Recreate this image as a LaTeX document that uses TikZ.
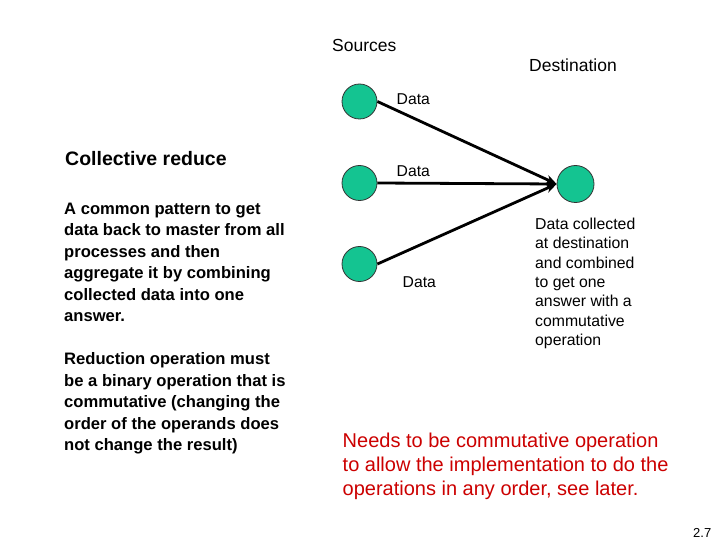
\documentclass[tikz,border=0pt]{standalone}
\usepackage{fontspec}
\setmainfont{Liberation Sans}
\usetikzlibrary{arrows.meta}
\definecolor{procgreen}{RGB}{20,196,145}
\definecolor{notered}{RGB}{204,0,0}
\tikzset{
  proc/.style={circle,draw=black!80,line width=0.8pt,fill=procgreen,minimum size=35pt,inner sep=0pt},
  msg/.style={line width=2.8pt,-{Stealth[length=11pt,width=9pt]}},
  lbl/.style={anchor=base west,inner sep=0pt,font=\fontsize{15.7}{18}\selectfont},
  bodytxt/.style={anchor=base west,inner sep=0pt,align=left,font=\fontsize{16.6}{21.5}\selectfont\bfseries},
}
\begin{document}
\begin{tikzpicture}[x=1pt,y=-1pt]
\useasboundingbox[fill=white] (0,0) rectangle (720,540);
% processes
\node[proc] (s1) at (359.5,101.5) {};
\node[proc] (s2) at (359.5,183) {};
\node[proc] (s3) at (359.5,264) {};
\node[proc,minimum size=37pt] (d) at (575.5,184) {};
% connectors
\draw[msg] (s1.east) -- (d.west);
\draw[msg] (s3.east) -- (d.west);
\draw[msg] (s2.east) -- (d.west);
% labels
\node[lbl,font=\fontsize{17.5}{20}\selectfont] (src) at (332,52) {Sources};
\node[lbl,font=\fontsize{17.5}{20}\selectfont] (dst) at (529,72) {Destination};
\node[lbl] (l1) at (396.5,105) {Data};
\node[lbl] (l2) at (396.5,177) {Data};
\node[lbl] (l3) at (402.5,287) {Data};
% multi-line nodes: base anchor = baseline of last line
\node[lbl,align=left,font=\fontsize{15.8}{19.3}\selectfont] (coll) at (535,345.3)
  {Data collected\\at destination\\and combined\\to get one\\answer with a\\commutative\\operation};
% left text
\node[bodytxt,font=\fontsize{19.5}{22}\selectfont\bfseries] (title) at (65,166) {Collective reduce};
\node[bodytxt] (p1) at (64,321.5) {A common pattern to get\\data back to master from all\\processes and then\\aggregate it by combining\\collected data into one\\answer.};
\node[bodytxt] (p2) at (64,450.5) {Reduction operation must\\be a binary operation that is\\commutative (changing the\\order of the operands does\\not change the result)};
% note
\node[anchor=base west,inner sep=0pt,align=left,text=notered,font=\fontsize{20}{24}\selectfont] (note) at (342.5,495)
  {Needs to be commutative operation\\to allow the implementation to do the\\operations in any order, see later.};
\node[anchor=base west,inner sep=0pt,font=\fontsize{13}{15}\selectfont] (pg) at (693,537) {2.7};
\end{tikzpicture}
\end{document}
